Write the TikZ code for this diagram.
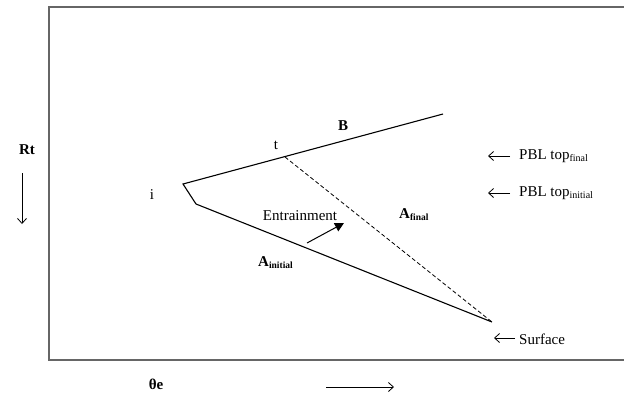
\documentclass[tikz,border=0pt]{standalone}
\usepackage{fontspec}
\setmainfont{Liberation Serif}
\usetikzlibrary{arrows.meta}
\begin{document}
\begin{tikzpicture}[x=1pt,y=-1pt,
  txt/.style={inner sep=0pt,font=\fontsize{15}{18}\selectfont},
  btxt/.style={inner sep=0pt,font=\fontsize{15}{18}\selectfont\bfseries},
  curve/.style={line width=1.1pt},
  pointer/.style={line width=0.8pt,-{Straight Barb[length=5pt,width=9pt]}},
  frame/.style={line width=1.6pt,draw=black!60}]
\useasboundingbox (0,0) rectangle (624,397);
\draw[frame] (624,7) -- (49,7) -- (49,360) -- (624,360);
% profile
\coordinate (top) at (183,184);
\coordinate (kink) at (196,204);
\coordinate (bend) at (443,114);
\coordinate (tp) at (285,157);
\coordinate (surf) at (492,322);
\draw[curve] (bend) -- (top) -- (kink) -- (surf);
\draw[line width=0.8pt,dashed,dash pattern=on 4pt off 2.5pt] (tp) -- (surf);
% labels
\node[txt] (ilab) at (152,195) {i};
\node[txt] (tlab) at (276,145) {t};
\node[btxt] (blab) at (343,126) {B};
\node[txt] (entr) at (300,216) {Entrainment};
\coordinate (ea) at (307,243);
\coordinate (eb) at (344,223);
\draw[line width=1pt,-{Triangle[length=9pt,width=9pt]}] (ea) -- (eb);
\node[btxt,anchor=west] (afin) at (399,215) {A\raisebox{-2pt}{\fontsize{9.5}{11}\selectfont final}};
\node[btxt,anchor=west] (aini) at (258,263) {A\raisebox{-2pt}{\fontsize{9.5}{11}\selectfont initial}};
% right labels
\node[txt,anchor=west] (pblf) at (519,156) {PBL top\raisebox{-2pt}{\fontsize{10}{12}\selectfont final}};
\node[txt,anchor=west] (pbli) at (519,193) {PBL top\raisebox{-2pt}{\fontsize{10}{12}\selectfont initial}};
\node[txt,anchor=west] (surflab) at (519,339) {Surface};
\coordinate (pfa) at (510,156);
\coordinate (pfb) at (488,156);
\coordinate (pia) at (510,193);
\coordinate (pib) at (488,193);
\coordinate (sa) at (515,338);
\coordinate (sb) at (494,338);
\draw[pointer] (pfa) -- (pfb);
\draw[pointer] (pia) -- (pib);
\draw[pointer] (sa) -- (sb);
% axes labels
\node[btxt] (rt) at (27,150) {Rt};
\coordinate (rta) at (22,173);
\coordinate (rtb) at (22,224);
\draw[pointer] (rta) -- (rtb);
\node[btxt] (th) at (156,384) {θe};
\coordinate (tha) at (326,387);
\coordinate (thb) at (394,387);
\draw[pointer] (tha) -- (thb);
\end{tikzpicture}
\end{document}
